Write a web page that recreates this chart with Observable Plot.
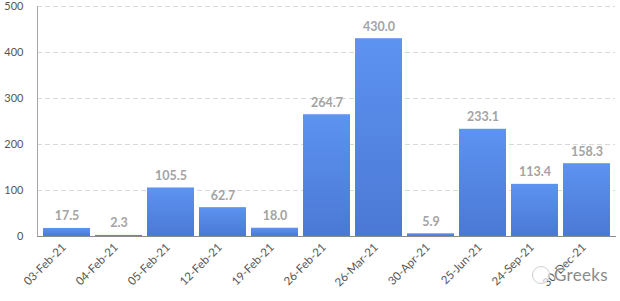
<!DOCTYPE html>
<html>
<head>
<meta charset="utf-8">
<script src="https://cdn.jsdelivr.net/npm/d3@7"></script>
<script src="https://cdn.jsdelivr.net/npm/@observablehq/plot@0.6"></script>
<style>
  html, body { margin: 0; padding: 0; background: #fff; }
  #chart { position: relative; width: 620px; height: 301px; }
  .wm { position: absolute; left: 554px; top: 264px; font: 17px Lato, sans-serif; color: #8a8a8a; letter-spacing: 0.3px;
        text-shadow: 0 0 2px #fff, 0 0 2px #fff; }
  .wmicon { position: absolute; left: 532px; top: 266px; width: 16px; height: 16px; border: 1.5px solid #d0d0d0; border-radius: 50%; background: rgba(255,255,255,0.6); }
</style>
</head>
<body>
<div id="chart"></div>
<script>
const dates = ["03-Feb-21","04-Feb-21","05-Feb-21","12-Feb-21","19-Feb-21","26-Feb-21","26-Mar-21","30-Apr-21","25-Jun-21","24-Sep-21","30-Dec-21"];
const values = [17.5, 2.3, 105.5, 62.7, 18.0, 264.7, 430.0, 5.9, 233.1, 113.4, 158.3];
const yTicks = [0, 100, 200, 300, 400, 500];

const data = dates.map((d, i) => ({date: d, value: values[i]}));

const chart = Plot.plot({
  width: 620,
  height: 301,
  marginLeft: 37,
  marginRight: 5,
  marginTop: 6,
  marginBottom: 65,
  style: {fontFamily: "Lato, 'Open Sans', sans-serif", fontSize: "11.5px", color: "#555"},
  x: {domain: dates, padding: 0.1, label: null},
  y: {domain: [0, 500], label: null},
  marks: [
    Plot.gridY(yTicks.slice(1), {stroke: "#d9d9d9", strokeOpacity: 1, strokeDasharray: "5,3"}),
    Plot.barY(data, {x: "date", y: "value", fill: "url(#barGrad)"}),
    Plot.text(data, {x: "date", y: "value", text: d => d.value.toFixed(1), dy: -12, fill: "#a3a3a3", fontWeight: "bold", fontSize: 12.5}),
    Plot.axisX({tickSize: 0, tickPadding: 9, tickRotate: -45, dx: -3, fill: "#555", fontSize: 11.5}),
    Plot.axisY(yTicks, {tickSize: 0, tickPadding: 14, fill: "#555", fontSize: 11}),
    Plot.frame({anchor: "left", stroke: "#a6a6a6"}),
    Plot.frame({anchor: "bottom", stroke: "#8c8c8c"})
  ]
});

const ns = "http://www.w3.org/2000/svg";
const defs = document.createElementNS(ns, "defs");
defs.innerHTML = '<linearGradient id="barGrad" x1="0" y1="0" x2="0" y2="1">' +
  '<stop offset="0%" stop-color="#5d93f1"/><stop offset="100%" stop-color="#4b78d5"/></linearGradient>';
chart.insertBefore(defs, chart.firstChild);

const host = document.getElementById("chart");
host.appendChild(chart);
const icon = document.createElement("div");
icon.className = "wmicon";
host.appendChild(icon);
const wm = document.createElement("div");
wm.className = "wm";
wm.textContent = "Greeks";
host.appendChild(wm);
</script>
</body>
</html>
